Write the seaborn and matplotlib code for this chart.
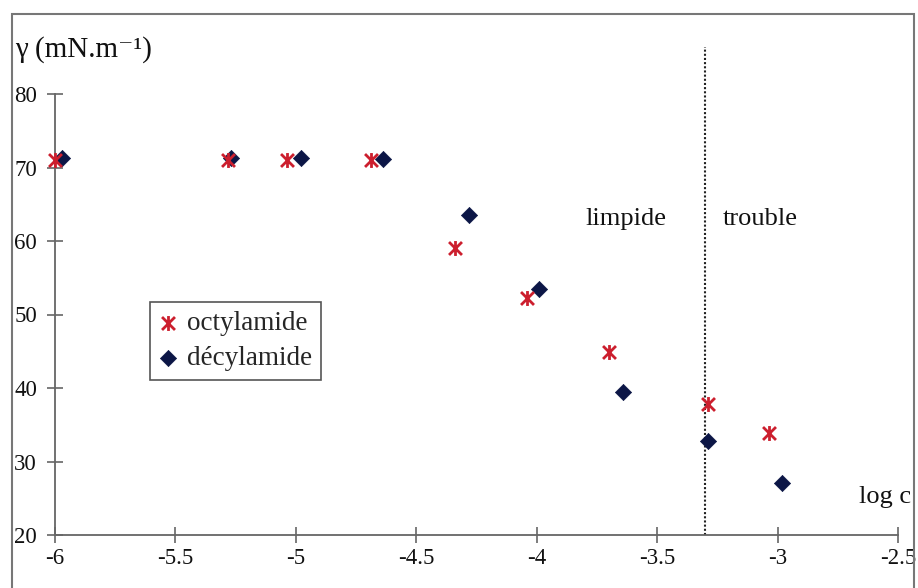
import numpy as np
import pandas as pd
import matplotlib
matplotlib.use("Agg")
import matplotlib.pyplot as plt
import seaborn as sns
from matplotlib.path import Path
from matplotlib.patches import Rectangle

# ---- data ----
octyl_logc = [-6.0, -5.28, -5.035, -4.69, -4.34, -4.04, -3.70, -3.29, -3.035]
octyl_gamma = [71.0, 71.0, 71.0, 71.0, 59.1, 52.3, 44.9, 37.8, 33.9]
decyl_logc = [-5.97, -5.27, -4.98, -4.64, -4.283, -3.99, -3.64, -3.29, -2.98]
decyl_gamma = [71.3, 71.3, 71.3, 71.1, 63.6, 53.5, 39.5, 32.8, 27.1]
series_names = ["octylamide", "décylamide"]
x_ticks = [-6, -5.5, -5, -4.5, -4, -3.5, -3, -2.5]
x_tick_labels = ["-6", "-5.5", "-5", "-4.5", "-4", "-3.5", "-3", "-2.5"]
y_ticks = [20, 30, 40, 50, 60, 70, 80]
boundary_logc = -3.3
boundary_top = 86.4

sns.set_theme(style="white")
plt.rcParams["font.family"] = ["Liberation Serif", "DejaVu Serif"]

W, H = 918, 588
fig = plt.figure(figsize=(W / 100, H / 100), dpi=100)
ax = fig.add_axes([55 / W, 1 - 535 / H, (898 - 55) / W, (535 - 94) / H])

df_o = pd.DataFrame({"logc": octyl_logc, "gamma": octyl_gamma})
df_d = pd.DataFrame({"logc": decyl_logc, "gamma": decyl_gamma})

star = Path([(-1, -1), (1, 1), (-1, 1), (1, -1), (0, -1.15), (0, 1.15)],
            [Path.MOVETO, Path.LINETO, Path.MOVETO, Path.LINETO, Path.MOVETO, Path.LINETO])
red = "#cc1f2e"
navy = "#0c1646"

sns.scatterplot(data=df_d, x="logc", y="gamma", ax=ax, marker="D", s=68,
                color=navy, edgecolor=navy, linewidth=0.5, label=series_names[1],
                zorder=3, clip_on=False)
sns.scatterplot(data=df_o, x="logc", y="gamma", ax=ax, marker=star, s=115,
                color=red, edgecolor=red, linewidth=2.0, label=series_names[0],
                zorder=4, clip_on=False)

ax.plot([boundary_logc, boundary_logc], [20, boundary_top], ls=(0, (1, 1)),
        color="#222222", lw=1.5, clip_on=False, zorder=2)

ax.set_xlim(-6, -2.5)
ax.set_ylim(20, 80)
ax.set_xticks(x_ticks)
ax.set_xticklabels(x_tick_labels)
ax.set_yticks(y_ticks)
ax.set_xlabel("")
ax.set_ylabel("")
for s in ["top", "right"]:
    ax.spines[s].set_visible(False)
for s in ["left", "bottom"]:
    ax.spines[s].set_color("#666666")
    ax.spines[s].set_linewidth(1.3)
ax.tick_params(axis="both", which="major", bottom=True, left=True, top=False, right=False,
               direction="inout", length=12, width=1.2, color="#666666",
               labelsize=16.5, labelcolor="#111111")
ax.tick_params(axis="y", pad=7)
ax.tick_params(axis="x", pad=3)
ax.patch.set_alpha(0)

# texts
fig.text(15 / W, 1 - 50 / H, "γ (mN.m⁻¹)", fontsize=21, va="center",
         ha="left", color="#111111")
fig.text(911 / W, 1 - 497 / H, "log c", fontsize=19, va="center", ha="right", color="#111111")
ax.text(-3.796, 63.0, "limpide", fontsize=19, va="center", ha="left", color="#111111")
ax.text(-3.227, 63.0, "trouble", fontsize=19, va="center", ha="left", color="#111111")

# legend
handles, labels = ax.get_legend_handles_labels()
order = [labels.index(series_names[0]), labels.index(series_names[1])]
leg = ax.legend([handles[i] for i in order], [labels[i] for i in order],
                loc="upper left", bbox_to_anchor=(150 / W, 1 - 302 / H),
                bbox_transform=fig.transFigure, fontsize=19.5, frameon=True,
                fancybox=False, edgecolor="#555555", framealpha=1,
                handlelength=0.6, handletextpad=0.4, borderpad=0.35,
                labelspacing=0.35, borderaxespad=0)
leg.get_frame().set_linewidth(1.2)

# outer frame
fig.patches.append(Rectangle((12 / W, -0.1), (914 - 12) / W, 1.1 - 14 / H,
                             transform=fig.transFigure, fill=False,
                             edgecolor="#777777", lw=1.5, zorder=0))

fig.savefig("out.png", dpi=100, facecolor="white")
